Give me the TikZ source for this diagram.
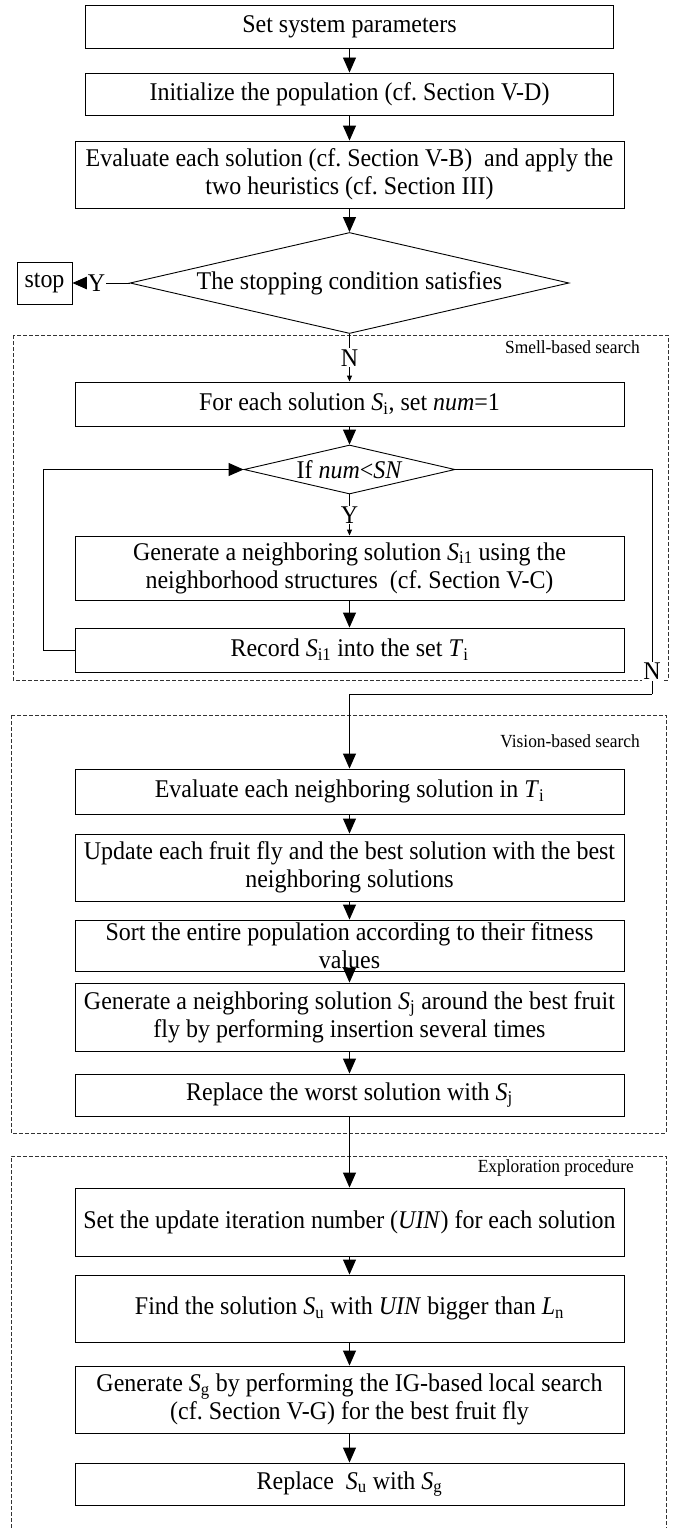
\documentclass[tikz,border=0pt]{standalone}
\usepackage{fontspec}
\setmainfont[FakeStretch=0.94]{Liberation Serif}
\usetikzlibrary{arrows.meta,shapes.geometric}
\newcommand{\Sx}[1]{\textit{S}\textsubscript{#1}}
\frenchspacing
\begin{document}
\begin{tikzpicture}[x=1pt,y=-1pt,
  every node/.style={font=\fontsize{25.5}{28}\selectfont},
  fbox/.style={draw, line width=0.9pt, inner xsep=0pt, inner ysep=0pt, align=center},
  dia/.style={draw, diamond, line width=0.9pt, inner sep=0pt},
  arr/.style={-{Triangle[length=15pt,width=13pt]}, line width=0.9pt},
  arrs/.style={-{Triangle[length=6pt,width=5pt]}, line width=0.9pt},
  lbl/.style={fill=white, inner sep=1pt},
  seclbl/.style={font=\fontsize{18.5}{21}\selectfont, inner sep=0pt, anchor=east},
  dashbox/.style={draw, line width=0.7pt, dash pattern=on 4pt off 2pt, black!80}
]
\useasboundingbox (0,0) rectangle (682,1528);

% dashed groups
\draw[dashbox] (13,335) rectangle (668,680);
\draw[dashbox] (11,715) rectangle (666,1133);
\draw[dashbox] (11,1528) -- (11,1156) -- (666,1156) -- (666,1528);

\node[seclbl] (l1) at (640,347) {Smell-based search};
\node[seclbl] (l2) at (640,741) {Vision-based search};
\node[seclbl] (l3) at (634,1168) {Exploration procedure};

% nodes
\node[fbox, minimum width=528pt, minimum height=43pt] (b1) at (349.5,27) {Set system parameters};
\node[fbox, minimum width=528pt, minimum height=42pt] (b2) at (349.5,94) {Initialize the population (cf. Section V-D)};
\node[fbox, minimum width=549pt, minimum height=67pt] (b3) at (349.5,174.5) {Evaluate each solution (cf. Section V-B)\ \ and apply the\\two heuristics (cf. Section III)};
\node[dia, aspect=4.35, minimum width=439pt, minimum height=101pt] (d1) at (349.5,283) {The stopping condition satisfies};
\node[fbox, minimum width=55pt, minimum height=42pt] (stop) at (44.5,283) {stop};

\node[fbox, minimum width=549pt, minimum height=44pt] (b4) at (349.5,404) {For each solution \Sx{i}, set \textit{num}=1};
\node[dia, aspect=4.3, minimum width=211pt, minimum height=49pt] (d2) at (349.5,469.5) {If \textit{num}<\textit{SN}};
\node[fbox, minimum width=549pt, minimum height=64pt] (b5) at (349.5,568) {Generate a neighboring solution \Sx{i1} using the\\neighborhood structures\ \ (cf. Section V-C)};
\node[fbox, minimum width=549pt, minimum height=44pt] (b6) at (349.5,650) {Record \Sx{i1} into the set \textit{T}\textsubscript{i}};

\node[fbox, minimum width=549pt, minimum height=45pt] (b7) at (349.5,791.5) {Evaluate each neighboring solution in \textit{T}\textsubscript{i}};
\node[fbox, minimum width=549pt, minimum height=67pt] (b8) at (349.5,867.5) {Update each fruit fly and the best solution with the best\\neighboring solutions};
\node[fbox, minimum width=549pt, minimum height=51pt] (b9) at (349.5,945.5) {Sort the entire population according to their fitness\\values};
\node[fbox, minimum width=549pt, minimum height=68pt] (b10) at (349.5,1017) {Generate a neighboring solution \Sx{j} around the best fruit\\fly by performing insertion several times};
\node[fbox, minimum width=549pt, minimum height=42pt] (b11) at (349.5,1095) {Replace the worst solution with \Sx{j}};

\node[fbox, minimum width=549pt, minimum height=68pt] (b12) at (349.5,1222) {Set the update iteration number (\textit{UIN}) for each solution};
\node[fbox, minimum width=549pt, minimum height=67pt] (b13) at (349.5,1308.5) {Find the solution \Sx{u} with \textit{UIN} bigger than \textit{L}\textsubscript{n}};
\node[fbox, minimum width=549pt, minimum height=67pt] (b14) at (349.5,1399.5) {Generate \Sx{g} by performing the IG-based local search\\(cf. Section V-G) for the best fruit fly};
\node[fbox, minimum width=549pt, minimum height=42pt] (b15) at (349.5,1484) {Replace\ \ \Sx{u} with \Sx{g}};

\coordinate (c1) at (652,694);

% connectors
\draw[arr] (b1) -- (b2);
\draw[arr] (b2) -- (b3);
\draw[arr] (b3) -- (d1);
\draw[arr] (d1) -- node[lbl, pos=0.58] {Y} (stop);
\draw[arrs] (d1) -- node[lbl] {N} (b4);
\draw[arr] (b4) -- (d2);
\draw[arrs] (d2) -- node[lbl] {Y} (b5);
\draw[arr] (b5) -- (b6);
\draw[arr] (b6.west) -- ++(-31,0) |- (d2.west);
\draw[line width=0.9pt] (d2.east) -| node[lbl, pos=0.95] {N} (c1);
\draw[arr] (c1) -| (b7.north);
\draw[arr] (b7) -- (b8);
\draw[arr] (b8) -- (b9);
\draw[arr] (b9) -- (b10);
\draw[arr] (b10) -- (b11);
\draw[arr] (b11) -- (b12);
\draw[arr] (b12) -- (b13);
\draw[arr] (b13) -- (b14);
\draw[arr] (b14) -- (b15);
\end{tikzpicture}
\end{document}
